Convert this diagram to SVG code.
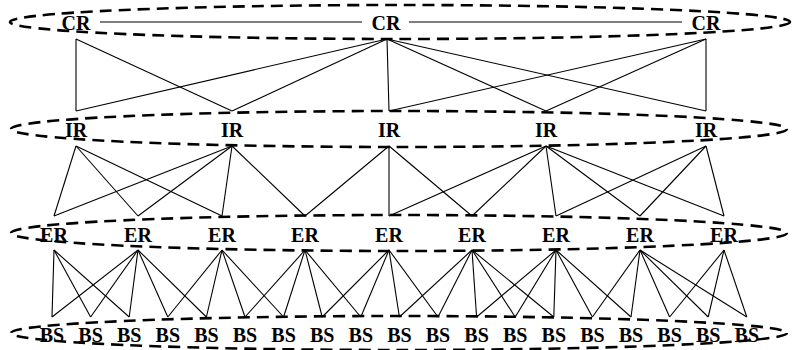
<svg xmlns="http://www.w3.org/2000/svg" width="799" height="350" viewBox="0 0 799 350">
  <style>
    .layer { fill: none; stroke: #000; stroke-width: 2.6; stroke-dasharray: 12 7; }
    .edge { stroke: #000; stroke-width: 1.1; fill: none; }
    .lbl { font-family: "Liberation Serif", "Times New Roman", serif; font-weight: bold; font-size: 20px; fill: #000; text-anchor: middle; }
  </style>
  <rect width="799" height="350" fill="#fff"/>

  <!-- dashed tier outlines -->
  <g id="layers">
    <ellipse class="layer" cx="400" cy="22" rx="390" ry="17"/>
    <ellipse class="layer" cx="399" cy="129" rx="388" ry="18"/>
    <ellipse class="layer" cx="399" cy="233" rx="388" ry="18"/>
    <ellipse class="layer" cx="399" cy="333" rx="388" ry="17"/>
  </g>

  <!-- links between tiers -->
  <g id="connectors" class="edge">
    <!-- core ring -->
    <line x1="100" y1="22" x2="362" y2="22"/>
    <line x1="409" y1="22" x2="682" y2="22"/>
    <!-- CR to IR -->
    <line x1="76" y1="39" x2="76" y2="111"/>
    <line x1="76" y1="39" x2="232" y2="111"/>
    <line x1="387" y1="39" x2="76" y2="111"/>
    <line x1="387" y1="39" x2="232" y2="111"/>
    <line x1="387" y1="39" x2="389" y2="111"/>
    <line x1="387" y1="39" x2="546" y2="111"/>
    <line x1="387" y1="39" x2="706" y2="111"/>
    <line x1="706" y1="39" x2="389" y2="111"/>
    <line x1="706" y1="39" x2="546" y2="111"/>
    <line x1="706" y1="39" x2="706" y2="111"/>
    <!-- IR to ER -->
    <line x1="76" y1="146" x2="54" y2="216"/>
    <line x1="76" y1="146" x2="138" y2="216"/>
    <line x1="76" y1="146" x2="222" y2="216"/>
    <line x1="232" y1="146" x2="54" y2="216"/>
    <line x1="232" y1="146" x2="138" y2="216"/>
    <line x1="232" y1="146" x2="222" y2="216"/>
    <line x1="232" y1="146" x2="305" y2="216"/>
    <line x1="389" y1="146" x2="305" y2="216"/>
    <line x1="389" y1="146" x2="389" y2="216"/>
    <line x1="389" y1="146" x2="472" y2="216"/>
    <line x1="546" y1="146" x2="389" y2="216"/>
    <line x1="546" y1="146" x2="472" y2="216"/>
    <line x1="546" y1="146" x2="556" y2="216"/>
    <line x1="546" y1="146" x2="640" y2="216"/>
    <line x1="546" y1="146" x2="724" y2="216"/>
    <line x1="706" y1="146" x2="556" y2="216"/>
    <line x1="706" y1="146" x2="640" y2="216"/>
    <line x1="706" y1="146" x2="724" y2="216"/>
    <!-- ER to BS -->
    <line x1="54" y1="250" x2="52" y2="317"/>
    <line x1="54" y1="250" x2="90.6" y2="317"/>
    <line x1="54" y1="250" x2="129.2" y2="317"/>
    <line x1="138" y1="250" x2="52" y2="317"/>
    <line x1="138" y1="250" x2="90.6" y2="317"/>
    <line x1="138" y1="250" x2="129.2" y2="317"/>
    <line x1="138" y1="250" x2="167.8" y2="317"/>
    <line x1="138" y1="250" x2="206.4" y2="317"/>
    <line x1="222" y1="250" x2="167.8" y2="317"/>
    <line x1="222" y1="250" x2="206.4" y2="317"/>
    <line x1="222" y1="250" x2="245" y2="317"/>
    <line x1="222" y1="250" x2="283.6" y2="317"/>
    <line x1="305" y1="250" x2="245" y2="317"/>
    <line x1="305" y1="250" x2="283.6" y2="317"/>
    <line x1="305" y1="250" x2="322.2" y2="317"/>
    <line x1="305" y1="250" x2="360.8" y2="317"/>
    <line x1="389" y1="250" x2="322.2" y2="317"/>
    <line x1="389" y1="250" x2="360.8" y2="317"/>
    <line x1="389" y1="250" x2="399.4" y2="317"/>
    <line x1="389" y1="250" x2="438" y2="317"/>
    <line x1="472" y1="250" x2="399.4" y2="317"/>
    <line x1="472" y1="250" x2="438" y2="317"/>
    <line x1="472" y1="250" x2="476.6" y2="317"/>
    <line x1="472" y1="250" x2="515.2" y2="317"/>
    <line x1="472" y1="250" x2="553.8" y2="317"/>
    <line x1="556" y1="250" x2="476.6" y2="317"/>
    <line x1="556" y1="250" x2="515.2" y2="317"/>
    <line x1="556" y1="250" x2="553.8" y2="317"/>
    <line x1="556" y1="250" x2="592.4" y2="317"/>
    <line x1="556" y1="250" x2="631" y2="317"/>
    <line x1="640" y1="250" x2="592.4" y2="317"/>
    <line x1="640" y1="250" x2="631" y2="317"/>
    <line x1="640" y1="250" x2="669.6" y2="317"/>
    <line x1="640" y1="250" x2="708.2" y2="317"/>
    <line x1="640" y1="250" x2="746.8" y2="317"/>
    <line x1="724" y1="250" x2="669.6" y2="317"/>
    <line x1="724" y1="250" x2="708.2" y2="317"/>
    <line x1="724" y1="250" x2="746.8" y2="317"/>
  </g>

  <!-- core routers -->
  <g id="cr1"><text class="lbl" x="76" y="30">CR</text></g>
  <g id="cr2"><text class="lbl" x="386" y="30">CR</text></g>
  <g id="cr3"><text class="lbl" x="706" y="30">CR</text></g>

  <!-- intermediate routers -->
  <g id="ir1"><text class="lbl" x="76" y="137">IR</text></g>
  <g id="ir2"><text class="lbl" x="232" y="137">IR</text></g>
  <g id="ir3"><text class="lbl" x="389" y="137">IR</text></g>
  <g id="ir4"><text class="lbl" x="546" y="137">IR</text></g>
  <g id="ir5"><text class="lbl" x="706" y="137">IR</text></g>

  <!-- edge routers -->
  <g id="er1"><text class="lbl" x="54" y="242">ER</text></g>
  <g id="er2"><text class="lbl" x="138" y="242">ER</text></g>
  <g id="er3"><text class="lbl" x="222" y="242">ER</text></g>
  <g id="er4"><text class="lbl" x="305" y="242">ER</text></g>
  <g id="er5"><text class="lbl" x="389" y="242">ER</text></g>
  <g id="er6"><text class="lbl" x="472" y="242">ER</text></g>
  <g id="er7"><text class="lbl" x="556" y="242">ER</text></g>
  <g id="er8"><text class="lbl" x="640" y="242">ER</text></g>
  <g id="er9"><text class="lbl" x="724" y="242">ER</text></g>

  <!-- base stations -->
  <g id="bs1"><text class="lbl" x="52" y="342">BS</text></g>
  <g id="bs2"><text class="lbl" x="90.6" y="342">BS</text></g>
  <g id="bs3"><text class="lbl" x="129.2" y="342">BS</text></g>
  <g id="bs4"><text class="lbl" x="167.8" y="342">BS</text></g>
  <g id="bs5"><text class="lbl" x="206.4" y="342">BS</text></g>
  <g id="bs6"><text class="lbl" x="245" y="342">BS</text></g>
  <g id="bs7"><text class="lbl" x="283.6" y="342">BS</text></g>
  <g id="bs8"><text class="lbl" x="322.2" y="342">BS</text></g>
  <g id="bs9"><text class="lbl" x="360.8" y="342">BS</text></g>
  <g id="bs10"><text class="lbl" x="399.4" y="342">BS</text></g>
  <g id="bs11"><text class="lbl" x="438" y="342">BS</text></g>
  <g id="bs12"><text class="lbl" x="476.6" y="342">BS</text></g>
  <g id="bs13"><text class="lbl" x="515.2" y="342">BS</text></g>
  <g id="bs14"><text class="lbl" x="553.8" y="342">BS</text></g>
  <g id="bs15"><text class="lbl" x="592.4" y="342">BS</text></g>
  <g id="bs16"><text class="lbl" x="631" y="342">BS</text></g>
  <g id="bs17"><text class="lbl" x="669.6" y="342">BS</text></g>
  <g id="bs18"><text class="lbl" x="708.2" y="342">BS</text></g>
  <g id="bs19"><text class="lbl" x="746.8" y="342">BS</text></g>
</svg>
